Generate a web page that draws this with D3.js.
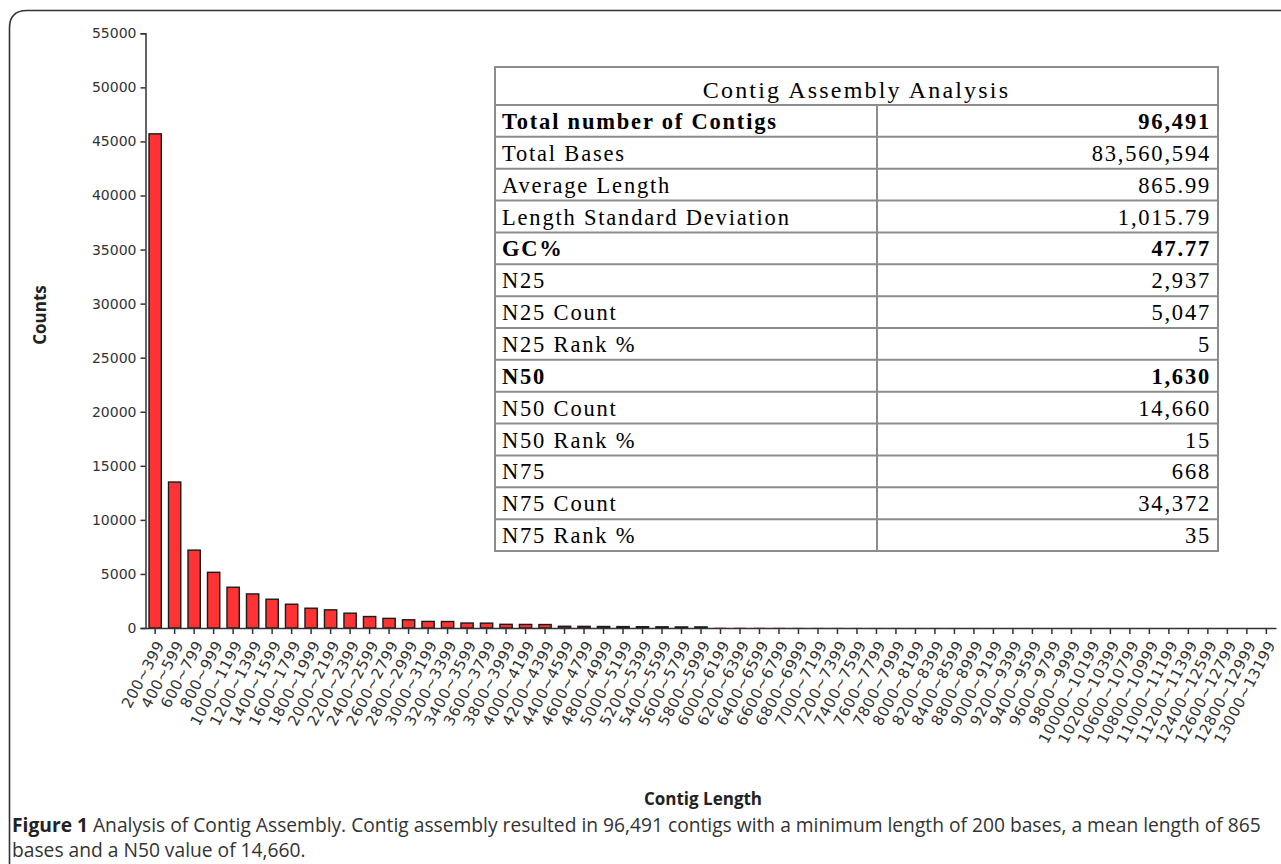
<!DOCTYPE html>
<html><head><meta charset="utf-8">
<script src="https://cdn.jsdelivr.net/npm/d3@7"></script>
<style>body{margin:0;background:#fff;overflow:hidden}</style>
</head><body>
<svg id="c" width="1281" height="864"></svg>
<script>
// ---------- DATA ----------
const categories = [
  "200~399","400~599","600~799","800~999","1000~1199","1200~1399","1400~1599","1600~1799",
  "1800~1999","2000~2199","2200~2399","2400~2599","2600~2799","2800~2999","3000~3199","3200~3399",
  "3400~3599","3600~3799","3800~3999","4000~4199","4200~4399","4400~4599","4600~4799","4800~4999",
  "5000~5199","5200~5399","5400~5599","5600~5799","5800~5999","6000~6199","6200~6399","6400~6599",
  "6600~6799","6800~6999","7000~7199","7200~7399","7400~7599","7600~7799","7800~7999","8000~8199",
  "8200~8399","8400~8599","8800~8999","9000~9199","9200~9399","9400~9599","9600~9799","9800~9999",
  "10000~10199","10200~10399","10600~10799","10800~10999","11000~11199","11200~11399","12400~12599",
  "12600~12799","12800~12999","13000~13199"
];
const counts = [
  45700,13500,7200,5150,3770,3150,2660,2200,
  1830,1680,1370,1060,890,760,610,600,
  460,450,340,330,320,160,150,140,
  130,120,110,100,100,40,35,30,
  26,22,18,15,12,10,9,8,
  7,6,5,4,4,3,3,3,
  2,2,2,1,1,1,1,
  1,1,1
];
const yTicks = [0,5000,10000,15000,20000,25000,30000,35000,40000,45000,50000,55000];
const tableTitle = "Contig Assembly Analysis";
const statLabels = ["Total number of Contigs","Total Bases","Average Length","Length Standard Deviation",
  "GC%","N25","N25 Count","N25 Rank %","N50","N50 Count","N50 Rank %","N75","N75 Count","N75 Rank %"];
const statValues = ["96,491","83,560,594","865.99","1,015.79","47.77","2,937","5,047","5",
  "1,630","14,660","15","668","34,372","35"];
const statBold = [true,false,false,false,true,false,false,false,true,false,false,false,false,false];
const xTitle = "Contig Length";
const yTitle = "Counts";
const captionBold = "Figure 1";
const captionLine1 = " Analysis of Contig Assembly. Contig assembly resulted in 96,491 contigs with a minimum length of 200 bases, a mean length of 865";
const captionLine2 = "bases and a N50 value of 14,660.";

// ---------- DRAW ----------
const svg = d3.select("#c");
const sans = "'DejaVu Sans', Verdana, sans-serif";
const serif = "'Liberation Serif', 'Times New Roman', serif";
const open = "'Open Sans', sans-serif";

// frame
svg.append("path")
  .attr("d","M9.5,900 L9.5,28 Q9.5,10.5 27,10.5 L1300,10.5")
  .attr("fill","none").attr("stroke","#333").attr("stroke-width",1.6);

const x = d3.scaleBand().domain(categories).range([145.5,1276]).paddingInner(0.37).paddingOuter(0.18);
const y = d3.scaleLinear().domain([0,55000]).range([628,33.3]);

// bars
svg.append("g").selectAll("rect").data(counts).join("rect")
  .attr("x",(d,i)=>x(categories[i]))
  .attr("y",d=>y(d))
  .attr("width",x.bandwidth())
  .attr("height",d=>y(0)-y(d))
  .attr("fill","#ff3333")
  .attr("stroke",d=>(y(0)-y(d))>=0.5?"#1a1a1a":"none").attr("stroke-width",1.4);

// y axis
const gy = svg.append("g").attr("transform","translate(145.5,0)")
  .call(d3.axisLeft(y).tickValues(yTicks).tickSize(5).tickPadding(4).tickFormat(d3.format("d")));
gy.select(".domain").attr("stroke","#333").attr("stroke-width",1.5);
gy.selectAll(".tick line").attr("stroke","#333").attr("stroke-width",1.5);
gy.selectAll(".tick text").attr("font-family",sans).attr("font-size",14).attr("fill","#333");

// x axis
const gx = svg.append("g").attr("transform","translate(0,628)")
  .call(d3.axisBottom(x).tickSize(6).tickSizeOuter(0).tickFormat(""));
gx.select(".domain").attr("stroke","#333").attr("stroke-width",1.5);
gx.selectAll(".tick line").attr("stroke","#333").attr("stroke-width",1.5);

svg.append("g").selectAll("text").data(categories).join("text")
  .attr("transform",d=>`translate(${x(d)+x.bandwidth()/2+5},${642}) rotate(-62)`)
  .attr("text-anchor","end").attr("dy","0.35em")
  .attr("font-family",sans).attr("font-size",15).attr("letter-spacing",0.5).attr("fill","#333")
  .text(d=>d);

// axis titles
svg.append("text").attr("transform","translate(40,315) rotate(-90)")
  .attr("text-anchor","middle").attr("dy","0.35em")
  .attr("font-family",open).attr("font-weight","bold").attr("font-size",17).attr("fill","#222")
  .text(yTitle);
svg.append("text").attr("x",703).attr("y",805)
  .attr("text-anchor","middle")
  .attr("font-family",open).attr("font-weight","bold").attr("font-size",17).attr("fill","#222")
  .text(xTitle);

// table
const tL=495, tR=1218, tTop=67, tRow0=105, tBot=551, tDiv=877;
const ry = d3.scaleBand().domain(d3.range(statLabels.length)).range([tRow0,tBot]);
const tg = svg.append("g");
tg.append("rect").attr("x",tL).attr("y",tTop).attr("width",tR-tL).attr("height",tBot-tTop)
  .attr("fill","#fff").attr("stroke","#8c8c8c").attr("stroke-width",2);
tg.selectAll("line.h").data(d3.range(statLabels.length)).join("line")
  .attr("x1",tL).attr("x2",tR).attr("y1",i=>ry(i)).attr("y2",i=>ry(i))
  .attr("stroke","#8c8c8c").attr("stroke-width",2);
tg.append("line").attr("x1",tDiv).attr("x2",tDiv).attr("y1",tRow0).attr("y2",tBot)
  .attr("stroke","#8c8c8c").attr("stroke-width",2);
tg.append("text").attr("x",(tL+tR)/2).attr("y",98).attr("text-anchor","middle")
  .attr("font-family",serif).attr("font-size",24).attr("letter-spacing",2.2).attr("fill","#000")
  .text(tableTitle);
tg.selectAll("text.l").data(statLabels).join("text").attr("class","l")
  .attr("x",502).attr("y",(d,i)=>ry(i)+24)
  .attr("font-family",serif).attr("font-size",22.5).attr("letter-spacing",1.8)
  .attr("font-weight",(d,i)=>statBold[i]?"bold":"normal").attr("fill","#000")
  .text(d=>d);
tg.selectAll("text.v").data(statValues).join("text").attr("class","v")
  .attr("x",1211).attr("y",(d,i)=>ry(i)+24).attr("text-anchor","end")
  .attr("font-family",serif).attr("font-size",22.5).attr("letter-spacing",1.8)
  .attr("font-weight",(d,i)=>statBold[i]?"bold":"normal").attr("fill","#000")
  .text(d=>d);

// caption (font size fitted so line 1 spans the reference width)
const cap = svg.append("text").attr("x",12).attr("y",832)
  .attr("font-family",open).attr("font-size",16).attr("fill","#333");
cap.append("tspan").attr("font-weight","bold").attr("fill","#222").text(captionBold);
cap.append("tspan").text(captionLine1);
const w = cap.node().getComputedTextLength();
const capFs = 16*1250/w;
cap.attr("font-size",capFs);
svg.append("text").attr("x",12).attr("y",857)
  .attr("font-family",open).attr("font-size",capFs).attr("fill","#333")
  .text(captionLine2);
</script>
</body></html>
